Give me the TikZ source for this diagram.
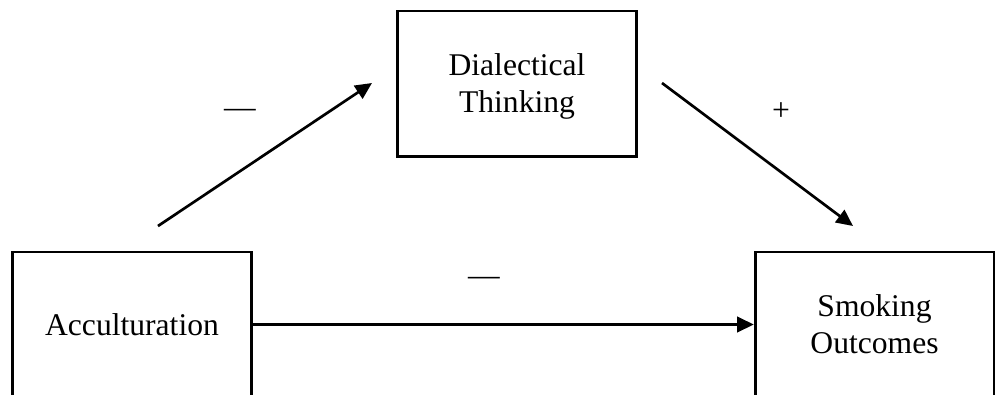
\documentclass[tikz,border=0pt]{standalone}
\usepackage{fontspec}
\setmainfont{Liberation Serif}
\usetikzlibrary{arrows.meta}
\begin{document}
\begin{tikzpicture}[x=0.75pt,y=-0.75pt]
    \tikzset{box/.style={draw, line width=2pt, minimum width=179pt, minimum height=109pt, align=center, text depth=0pt, font=\fontsize{23.7}{27.75}\selectfont}}
    \tikzset{lbl/.style={inner sep=0pt, font=\fontsize{23.7}{27.75}\selectfont}}
    \tikzset{arr/.style={-{Triangle[length=12.5pt,width=11.5pt]}, line width=2pt}}

    \useasboundingbox (0,0) rectangle (998,394);
    \clip (0,0) rectangle (998,394);

    \node[box] (acc) at (132,324.5) {Acculturation};
    \node[box] (dial) at (517,83.5) {Dialectical\\Thinking};
    \node[box] (smk) at (874.5,324.5) {Smoking\\Outcomes};

    \coordinate (p) at (158,226);
    \coordinate (q) at (372,83);
    \coordinate (r) at (662,83);
    \coordinate (s) at (853,226);

    \draw[arr] (p) -- (q);
    \draw[arr] (r) -- (s);
    \draw[arr] (acc) -- (smk);

    \node[lbl] (m1) at (240,113) {\textemdash};
    \node[lbl] (m2) at (484,281) {\textemdash};
    \node[lbl] (pl) at (781,112) {+};
\end{tikzpicture}
\end{document}
